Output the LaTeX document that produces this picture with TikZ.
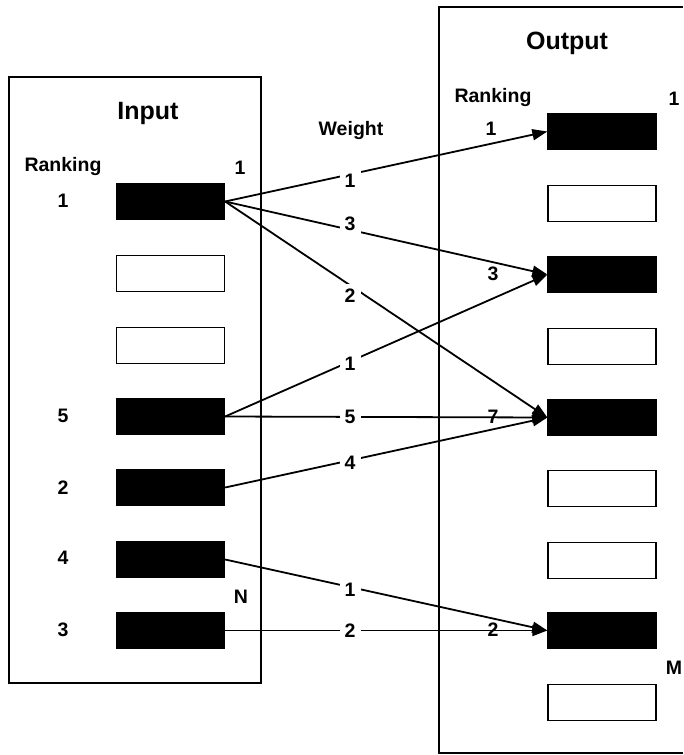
\documentclass[tikz,border=0pt]{standalone}
\usepackage{fontspec}
\setmainfont{Liberation Sans}
\usetikzlibrary{arrows.meta}
\begin{document}
\begin{tikzpicture}[x=1pt,y=-1pt,
  slot/.style={draw=black,line width=1.3pt,minimum width=108pt,minimum height=36pt,inner sep=0pt},
  full/.style={slot,fill=black},
  empty/.style={slot,fill=white},
  title/.style={font=\fontsize{25}{28}\selectfont\bfseries,inner sep=0pt},
  lab/.style={font=\fontsize{19.5}{22}\selectfont\bfseries,inner sep=0pt},
  wlab/.style={lab,fill=white,inner sep=5pt},
  conn/.style={line width=1.8pt,-{Triangle[length=15pt,width=11pt]}},
  frame/.style={line width=1.3pt}]
\useasboundingbox (0,0) rectangle (683,755);
% frames
\draw[frame] (9,77) rectangle (261,683);
\draw[frame] (683,7) -- (439,7) -- (439,753) -- (683,753);
% input slots
\node[full]  (i1) at (170.5,201.5) {};
\node[empty] (i2) at (170.5,273.5) {};
\node[empty] (i3) at (170.5,345.5) {};
\node[full]  (i4) at (170.5,416.5) {};
\node[full]  (i5) at (170.5,487.5) {};
\node[full]  (i6) at (170.5,559.5) {};
\node[full]  (i7) at (170.5,630.5) {};
% output slots
\node[full]  (o1) at (602,131.5) {};
\node[empty] (o2) at (602,203.5) {};
\node[full]  (o3) at (602,274.5) {};
\node[empty] (o4) at (602,346.5) {};
\node[full]  (o5) at (602,417.5) {};
\node[empty] (o6) at (602,488.5) {};
\node[empty] (o7) at (602,560.5) {};
\node[full]  (o8) at (602,630.5) {};
\node[empty] (o9) at (602,702.5) {};
% titles and labels
\node[title] (tin) at (148,113) {Input};
\node[title] (tout) at (567,43) {Output};
\node[lab] (rin) at (63,166) {Ranking};
\node[lab] (rout) at (493,97) {Ranking};
\node[lab] (wt) at (351,130) {Weight};
\node[lab] (in1) at (240,168) {1};
\node[lab] (inN) at (241,597) {N};
\node[lab] (on1) at (674,99) {1};
\node[lab] (onM) at (674,668) {M};
\node[lab] (r1) at (63,201) {1};
\node[lab] (r5) at (63,416) {5};
\node[lab] (r2) at (63,488) {2};
\node[lab] (r4) at (63,558) {4};
\node[lab] (r3) at (63,630) {3};
% connectors
\draw[conn] (i1.east) -- node[wlab,pos=0.388,yshift=-6pt]{1} (o1.west);
\draw[conn] (i1.east) -- node[wlab,pos=0.388,yshift=6pt]{3} (o3.west);
\draw[conn] (i1.east) -- node[wlab,pos=0.388,yshift=-10pt]{2} (o5.west);
\draw[conn] (i4.east) -- node[wlab,pos=0.388,yshift=-2pt]{1} (o3.west);
\draw[conn] (i4.east) -- node[wlab,pos=0.388]{5} (o5.west);
\draw[conn] (i5.east) -- node[wlab,pos=0.388,yshift=-2pt]{4} (o5.west);
\draw[conn] (i6.east) -- node[wlab,pos=0.388,yshift=-3pt]{1} (o8.west);
\draw[conn] (i7.east) -- node[wlab,pos=0.388]{2} (o8.west);
% output ranking values (over the lines)
\node[lab] (or1) at (491,129) {1};
\node[lab] (or3) at (493,274) {3};
\node[lab] (or7) at (493,417) {7};
\node[lab] (or2) at (493,630) {2};
\end{tikzpicture}
\end{document}
